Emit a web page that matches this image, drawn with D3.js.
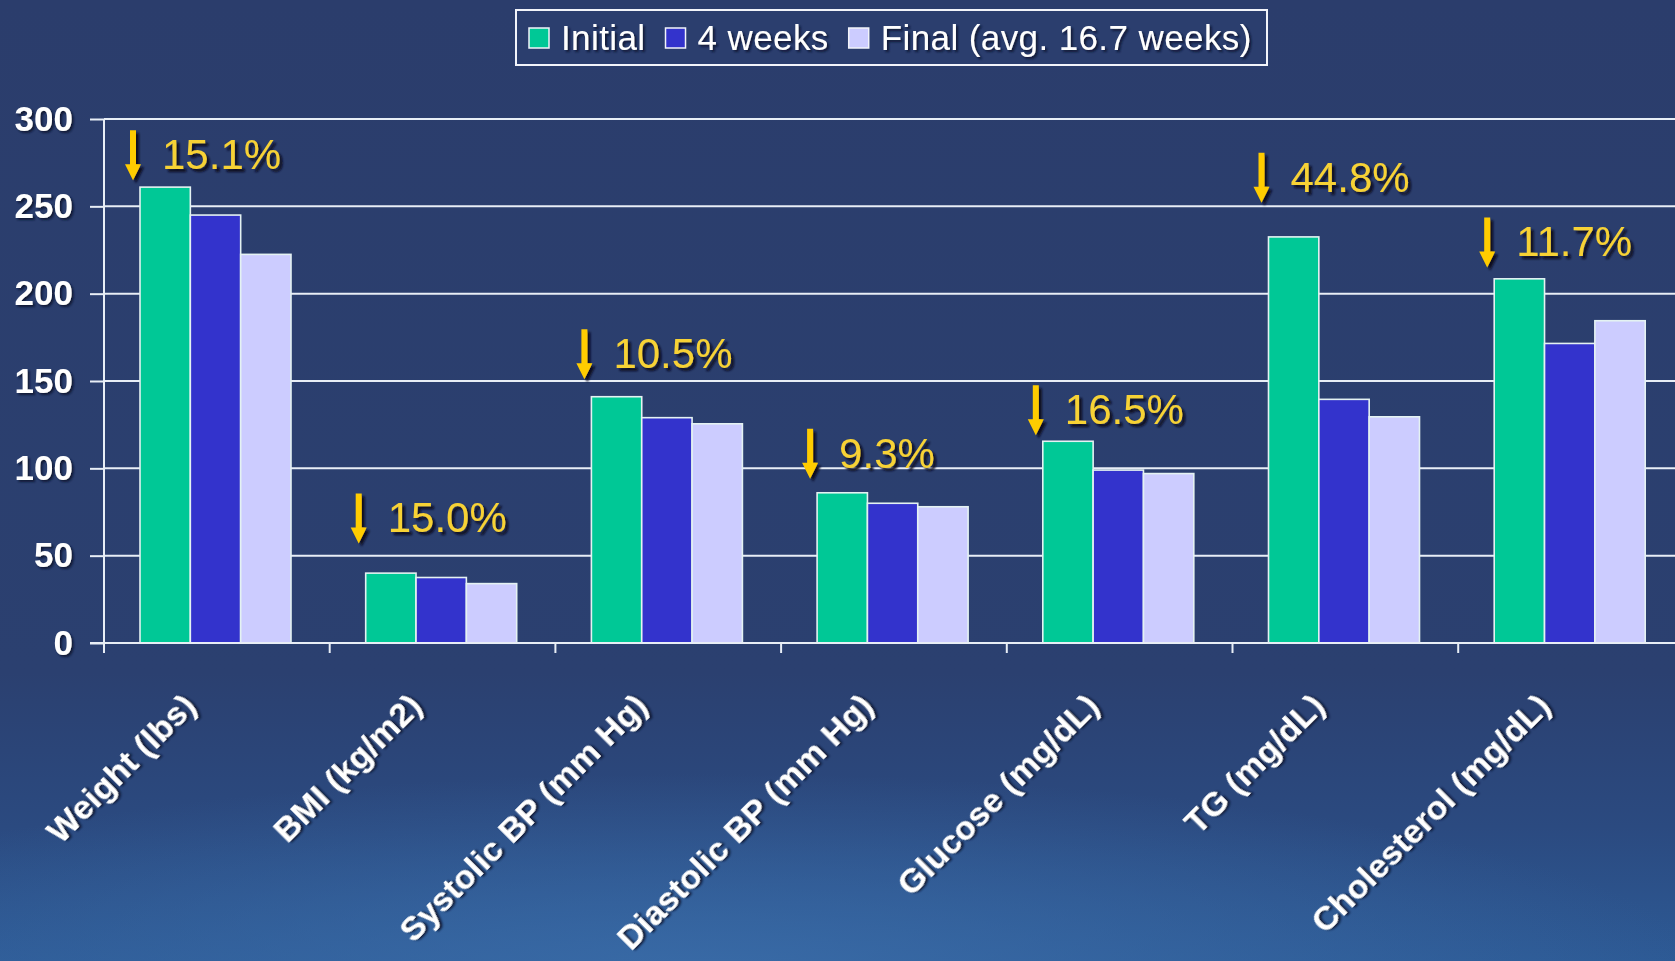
<!DOCTYPE html>
<html>
<head>
<meta charset="utf-8">
<script src="https://cdn.jsdelivr.net/npm/d3@7"></script>
<style>
  html, body { margin: 0; padding: 0; background: #2B3E6E; overflow: hidden; }
  svg { display: block; font-family: "Liberation Sans", Arial, sans-serif; }
</style>
</head>
<body>
<svg id="chart" width="1675" height="961"></svg>
<script>
// ---------- data ----------
const categories = ["Weight (lbs)", "BMI (kg/m2)", "Systolic BP (mm Hg)", "Diastolic BP (mm Hg)", "Glucose (mg/dL)", "TG (mg/dL)", "Cholesterol (mg/dL)"];
const seriesNames = ["Initial", "4 weeks", "Final (avg. 16.7 weeks)"];
const initialVals = [261, 40, 141, 86, 115.5, 232.5, 208.5];
const week4Vals   = [245, 37.5, 129, 80, 99, 139.5, 171.5];
const finalVals   = [222.5, 34, 125.5, 78, 97, 129.5, 184.5];
const changeLabels = ["15.1%", "15.0%", "10.5%", "9.3%", "16.5%", "44.8%", "11.7%"];
const arrowLevels  = [265, 57, 151, 94, 119, 252, 215];
const yTicks = [0, 50, 100, 150, 200, 250, 300];
const seriesColors = ["#00C896", "#3333CC", "#CCCCFF"];

// ---------- layout ----------
const W = 1675, H = 961;
const svg = d3.select("#chart");
const defs = svg.append("defs");

// background
const bg = defs.append("linearGradient").attr("id", "bgGrad").attr("x1", 0).attr("y1", 0).attr("x2", 0).attr("y2", 1);
bg.append("stop").attr("offset", "0").attr("stop-color", "#2B3D6C");
bg.append("stop").attr("offset", "0.70").attr("stop-color", "#2B4070");
bg.append("stop").attr("offset", "0.86").attr("stop-color", "#2B4A80");
bg.append("stop").attr("offset", "1").attr("stop-color", "#2D5A95");
const glow = defs.append("radialGradient").attr("id", "glow").attr("cx", "0.42").attr("cy", "1.05").attr("r", "0.6")
  .attr("gradientTransform", "scale(1,0.35) translate(0,1.85)");
glow.append("stop").attr("offset", "0").attr("stop-color", "#3A6CA8").attr("stop-opacity", 0.9);
glow.append("stop").attr("offset", "1").attr("stop-color", "#3A6CA8").attr("stop-opacity", 0);

const sh = defs.append("filter").attr("id", "shadow").attr("x", "-20%").attr("y", "-20%").attr("width", "140%").attr("height", "140%");
sh.append("feDropShadow").attr("dx", 2).attr("dy", 2).attr("stdDeviation", 0.8).attr("flood-color", "#0E1530").attr("flood-opacity", 0.95);
const shY = defs.append("filter").attr("id", "shadowY").attr("x", "-20%").attr("y", "-20%").attr("width", "140%").attr("height", "140%");
shY.append("feDropShadow").attr("dx", 3).attr("dy", 3).attr("stdDeviation", 0.9).attr("flood-color", "#0A0F20").attr("flood-opacity", 1);

svg.append("rect").attr("width", W).attr("height", H).attr("fill", "url(#bgGrad)");
svg.append("rect").attr("width", W).attr("height", H).attr("fill", "url(#glow)");

// scales
const y = d3.scaleLinear().domain([0, 300]).range([643, 119]);
const x0 = d3.scaleBand().domain(categories).range([104, 104 + 7 * 225.7]).padding(0);
const x1 = d3.scaleBand().domain(seriesNames).range([36, 187]).padding(0);
const color = d3.scaleOrdinal().domain(seriesNames).range(seriesColors);

const allSeries = [initialVals, week4Vals, finalVals];
const rows = categories.map((c, i) => ({ cat: c, vals: seriesNames.map((s, j) => ({ s, v: allSeries[j][i] })) }));

// gridlines + y axis
const yAxis = d3.axisLeft(y).tickValues(yTicks).tickSize(14).tickFormat(d3.format("d"));
const gy = svg.append("g").attr("transform", "translate(104,0)").call(yAxis);
gy.select(".domain").remove();
gy.selectAll(".tick line").attr("stroke", "#E8EEF6").attr("stroke-width", 2);
gy.selectAll(".tick text").attr("x", -31).attr("fill", "#FFFFFF").attr("font-size", 35).attr("font-weight", "bold")
  .attr("filter", "url(#shadow)");

svg.append("g").selectAll("line.grid").data(yTicks).join("line")
  .attr("x1", 104).attr("x2", W).attr("y1", d => y(d)).attr("y2", d => y(d))
  .attr("stroke", "#E8EEF6").attr("stroke-width", 2);

// bars
const groups = svg.append("g").selectAll("g").data(rows).join("g")
  .attr("transform", d => `translate(${x0(d.cat)},0)`);
groups.selectAll("rect").data(d => d.vals).join("rect")
  .attr("x", d => x1(d.s)).attr("width", x1.bandwidth())
  .attr("y", d => y(d.v)).attr("height", d => y(0) - y(d.v))
  .attr("fill", d => color(d.s)).attr("stroke", "#E4F2F2").attr("stroke-width", 1.6);

// axes lines
svg.append("line").attr("x1", 104).attr("x2", 104).attr("y1", y(300)).attr("y2", 653).attr("stroke", "#E8EEF6").attr("stroke-width", 2);
svg.append("line").attr("x1", 90).attr("x2", W).attr("y1", y(0)).attr("y2", y(0)).attr("stroke", "#E8EEF6").attr("stroke-width", 2);
svg.append("g").selectAll("line").data(categories).join("line")
  .attr("x1", d => x0(d)).attr("x2", d => x0(d)).attr("y1", y(0)).attr("y2", 653)
  .attr("stroke", "#E8EEF6").attr("stroke-width", 2);

// category labels
svg.append("g").selectAll("text").data(categories).join("text")
  .attr("transform", d => `translate(${x0(d) + x0.bandwidth() / 2 - 19},708) rotate(-45)`)
  .attr("text-anchor", "end").attr("fill", "#FFFFFF").attr("font-size", 34).attr("font-weight", "bold")
  .attr("filter", "url(#shadow)")
  .text(d => d);

// annotations: arrow + percent change
const ann = svg.append("g").selectAll("g").data(categories).join("g")
  .attr("transform", (d, i) => `translate(${x0(d) + x1(seriesNames[0]) - 7},${y(arrowLevels[i])})`)
  .attr("filter", "url(#shadowY)");
ann.append("path")
  .attr("d", "M-3,-50 L3,-50 L3,-16 L8,-16 L0,0 L-8,-16 L-3,-16 Z")
  .attr("fill", "#FFCC00");
ann.append("text")
  .attr("x", 29).attr("y", -11)
  .attr("fill", "#F7D236").attr("font-size", 42)
  .text((d, i) => changeLabels[i]);

// legend
const leg = svg.append("g");
leg.append("rect").attr("x", 516).attr("y", 10).attr("width", 751).attr("height", 55)
  .attr("fill", "#2B3E6E").attr("stroke", "#F2F4FA").attr("stroke-width", 2);
let lx = 529;
seriesNames.forEach((s, i) => {
  leg.append("rect").attr("x", lx).attr("y", 28).attr("width", 20).attr("height", 20)
    .attr("fill", seriesColors[i]).attr("stroke", "#F2F4FA").attr("stroke-width", 1.5);
  const t = leg.append("text").attr("x", lx + 32).attr("y", 50)
    .attr("fill", "#FFFFFF").attr("font-size", 35).attr("letter-spacing", 0.4).attr("filter", "url(#shadow)").text(s);
  lx = lx + 32 + t.node().getComputedTextLength() + 20;
});
</script>
</body>
</html>
